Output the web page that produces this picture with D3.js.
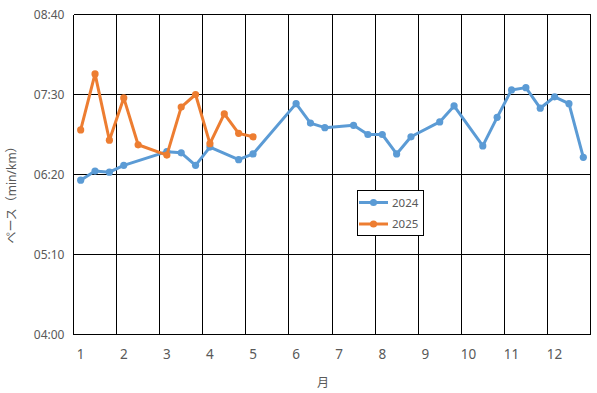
<!DOCTYPE html>
<html>
<head>
<meta charset="utf-8">
<script src="https://cdn.jsdelivr.net/npm/d3@7"></script>
<style>
  body { margin: 0; background: #fff; }
  text { font-family: "Noto Sans", "Noto Sans CJK JP", sans-serif; fill: #595959; }
</style>
</head>
<body>
<div id="chart"></div>
<script>
// months shown on the x axis, each month split in 3 (上旬/中旬/下旬)
const months = [1, 2, 3, 4, 5, 6, 7, 8, 9, 10, 11, 12];
// pace in seconds per km, one per 10-day period, null = no data
const pace2024 = [375, 383, 382, 388, null, null, 400, 399, 388, 404, null, 393,
    398, null, null, 442, 425, 421, null, 423, 415, 415, 398, 413,
    null, 426, 440, null, 405, 430, 454, 456, 438, 448, 442, 395];
const pace2025 = [419, 468, 410, 447, 406, null, 397, 439, 450, 407, 433, 416, 413];
const yTicks = [240, 310, 380, 450, 520];
const seriesNames = ["2024", "2025"];
const colors = ["#5B9BD5", "#ED7D31"];

const W = 597, H = 393;
const plotL = 73.5, plotR = 590.5, plotT = 14.5, plotB = 334.5;

const svg = d3.select("#chart").append("svg")
    .attr("width", W)
    .attr("height", H);

const x = d3.scaleLinear().domain([0, months.length * 3]).range([plotL, plotR]);
const y = d3.scaleLinear().domain([240, 520]).range([plotB, plotT]);

const fmt = s => {
    let m = Math.floor(s / 60), sec = s % 60;
    return (m < 10 ? "0" + m : m) + ":" + (sec < 10 ? "0" + sec : sec);
};

// grid
const grid = svg.append("g").attr("shape-rendering", "crispEdges");
grid.selectAll(".hl")
    .data(yTicks)
    .enter()
    .append("line")
    .attr("x1", plotL).attr("x2", plotR)
    .attr("y1", d => Math.floor(y(d)) + 0.5)
    .attr("y2", d => Math.floor(y(d)) + 0.5)
    .attr("stroke", "#000");
grid.selectAll(".vl")
    .data(d3.range(0, months.length * 3 + 1, 3))
    .enter()
    .append("line")
    .attr("x1", d => Math.floor(x(d)) + 0.5)
    .attr("x2", d => Math.floor(x(d)) + 0.5)
    .attr("y1", plotT).attr("y2", plotB)
    .attr("stroke", "#000");

// y axis labels
svg.append("g")
    .selectAll("text")
    .data(yTicks)
    .enter()
    .append("text")
    .attr("x", plotL - 9)
    .attr("y", d => y(d))
    .attr("dy", "0.35em")
    .attr("text-anchor", "end")
    .style("font-size", "12px")
    .text(d => fmt(d));

// x axis labels (at the first 10-day period of each month)
svg.append("g")
    .selectAll("text")
    .data(months)
    .enter()
    .append("text")
    .attr("x", (d, i) => x(i * 3 + 0.5))
    .attr("y", 354)
    .attr("dy", "0.35em")
    .attr("text-anchor", "middle")
    .style("font-size", "13.5px")
    .text(d => d);

// axis titles
svg.append("text")
    .attr("x", 323)
    .attr("y", 383)
    .attr("dy", "0.35em")
    .attr("text-anchor", "middle")
    .style("font-size", "12px")
    .text("月");
svg.append("text")
    .attr("transform", "translate(12,192) rotate(-90)")
    .attr("dy", "0.35em")
    .attr("text-anchor", "middle")
    .style("font-size", "12px")
    .text("ペース（min/km）");

// series
const line = d3.line()
    .x(d => x(d.i + 0.5))
    .y(d => y(d.v));

[pace2024, pace2025].forEach((vals, k) => {
    let pts = vals.map((v, i) => ({i: i, v: v})).filter(d => d.v !== null);
    let g = svg.append("g");
    g.append("path")
        .attr("d", line(pts))
        .attr("fill", "none")
        .attr("stroke", colors[k])
        .attr("stroke-width", 3)
        .attr("stroke-linejoin", "round");
    g.selectAll("circle")
        .data(pts)
        .enter()
        .append("circle")
        .attr("cx", d => x(d.i + 0.5))
        .attr("cy", d => y(d.v))
        .attr("r", 3.6)
        .attr("fill", colors[k]);
});

// legend
const lg = svg.append("g");
lg.append("rect")
    .attr("x", 357.5).attr("y", 190.5)
    .attr("width", 66).attr("height", 45)
    .attr("fill", "#fff")
    .attr("stroke", "#000")
    .attr("shape-rendering", "crispEdges");
seriesNames.forEach((name, k) => {
    let ly = 202.5 + k * 21.5;
    lg.append("line")
        .attr("x1", 359).attr("x2", 388)
        .attr("y1", ly).attr("y2", ly)
        .attr("stroke", colors[k])
        .attr("stroke-width", 3);
    lg.append("circle")
        .attr("cx", 373.5).attr("cy", ly)
        .attr("r", 3.6)
        .attr("fill", colors[k]);
    lg.append("text")
        .attr("x", 392)
        .attr("y", ly)
        .attr("dy", "0.35em")
        .style("font-size", "11.5px")
        .text(name);
});
</script>
</body>
</html>
